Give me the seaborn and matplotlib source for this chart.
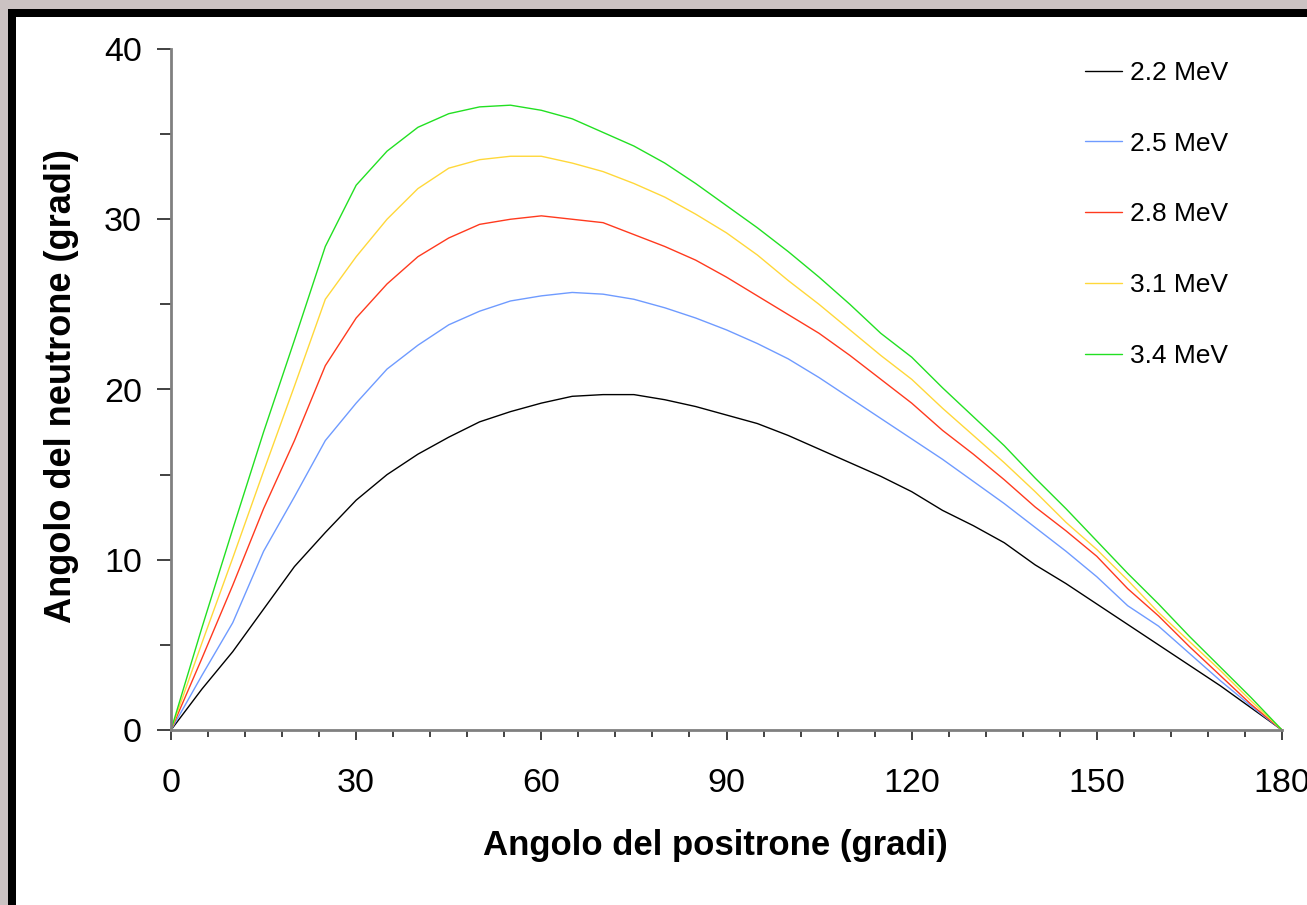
import numpy as np
import pandas as pd
import matplotlib.pyplot as plt
import matplotlib.patches as mpatches
import seaborn as sns

# angoli del positrone (gradi), passo 5
angles = list(range(0, 181, 5))

e22 = [0, 2.4, 4.6, 7.1, 9.6, 11.6, 13.5, 15.0, 16.2, 17.2, 18.1, 18.7, 19.2, 19.6, 19.7, 19.7,
       19.4, 19.0, 18.5, 18.0, 17.3, 16.5, 15.7, 14.9, 14.0, 12.9, 12.0, 11.0, 9.7, 8.6, 7.4,
       6.2, 5.0, 3.8, 2.6, 1.3, 0]
e25 = [0, 3.2, 6.3, 10.5, 13.7, 17.0, 19.2, 21.2, 22.6, 23.8, 24.6, 25.2, 25.5, 25.7, 25.6, 25.3,
       24.8, 24.2, 23.5, 22.7, 21.8, 20.7, 19.5, 18.3, 17.1, 15.9, 14.6, 13.3, 11.9, 10.5, 9.0,
       7.3, 6.1, 4.5, 2.9, 1.4, 0]
e28 = [0, 4.2, 8.5, 13.0, 17.0, 21.4, 24.2, 26.2, 27.8, 28.9, 29.7, 30.0, 30.2, 30.0, 29.8, 29.1,
       28.4, 27.6, 26.6, 25.5, 24.4, 23.3, 22.0, 20.6, 19.2, 17.6, 16.2, 14.7, 13.1, 11.7, 10.2,
       8.3, 6.7, 4.9, 3.2, 1.5, 0]
e31 = [0, 5.1, 10.1, 15.2, 20.2, 25.3, 27.8, 30.0, 31.8, 33.0, 33.5, 33.7, 33.7, 33.3, 32.8, 32.1,
       31.3, 30.3, 29.2, 27.9, 26.4, 25.0, 23.5, 22.0, 20.6, 18.9, 17.3, 15.7, 14.0, 12.2, 10.6,
       8.8, 6.9, 5.2, 3.5, 1.7, 0]
e34 = [0, 6.0, 11.8, 17.5, 22.9, 28.4, 32.0, 34.0, 35.4, 36.2, 36.6, 36.7, 36.4, 35.9, 35.1, 34.3,
       33.3, 32.1, 30.8, 29.5, 28.1, 26.6, 25.0, 23.3, 21.9, 20.1, 18.4, 16.7, 14.8, 13.0, 11.1,
       9.2, 7.4, 5.5, 3.7, 1.9, 0]

labels = ['2.2 MeV', '2.5 MeV', '2.8 MeV', '3.1 MeV', '3.4 MeV']
colors = ['#000000', '#6f9bff', '#ff3a1e', '#ffd83a', '#22e022']

df = pd.concat([pd.DataFrame({'positrone': angles, 'neutrone': v, 'energia': lab})
                for v, lab in zip([e22, e25, e28, e31, e34], labels)])

sns.set_theme(style='white')
plt.rcParams['font.family'] = ['Liberation Sans', 'DejaVu Sans']
plt.rcParams['text.color'] = 'black'
plt.rcParams['axes.labelcolor'] = 'black'
plt.rcParams['xtick.labelcolor'] = 'black'
plt.rcParams['ytick.labelcolor'] = 'black'

fig = plt.figure(figsize=(13.07, 9.05), dpi=100, facecolor='#cbc2c2')
# cornice: bordo nero e pannello bianco
fig.patches.append(mpatches.Rectangle((8/1307, 0), 1, 1 - 9/905, transform=fig.transFigure,
                                      facecolor='black', edgecolor='none', zorder=-2))
fig.patches.append(mpatches.Rectangle((16/1307, 0), 1, 1 - 17/905, transform=fig.transFigure,
                                      facecolor='white', edgecolor='none', zorder=-1))

ax = fig.add_axes([171/1307, 1 - 730/905, 1111/1307, 681/905])
ax.set_facecolor('none')
sns.lineplot(data=df, x='positrone', y='neutrone', hue='energia', palette=dict(zip(labels, colors)),
             linewidth=1.0, ax=ax, clip_on=False)

ax.set_xlim(0, 180)
ax.set_ylim(0, 40)
ax.set_xticks(range(0, 181, 30))
ax.set_xticks(range(0, 181, 6), minor=True)
ax.set_yticks(range(0, 41, 10))
ax.set_yticks(range(5, 40, 10), minor=True)

for s in ['top', 'right']:
    ax.spines[s].set_visible(False)
for s in ['left', 'bottom']:
    ax.spines[s].set_color('#808080')
    ax.spines[s].set_linewidth(2)

ax.tick_params(axis='x', which='major', direction='out', length=7.5, width=1.3, color='#333333',
               labelsize=24.5, pad=20, bottom=True)
ax.tick_params(axis='x', which='minor', direction='out', length=5, width=1.3, color='#333333', bottom=True)
ax.tick_params(axis='y', which='major', direction='out', length=10, width=1.3, color='#333333',
               labelsize=24.5, pad=11, left=True)
ax.tick_params(axis='y', which='minor', direction='out', length=8, width=1.3, color='#333333', left=True)

ax.set_xlabel('Angolo del positrone (gradi)', fontsize=25, fontweight='bold', va='center')
ax.set_ylabel('Angolo del neutrone (gradi)', fontsize=26, fontweight='bold', va='center')
ax.xaxis.set_label_coords((715 - 171) / 1111, -(845 - 730) / 681)
ax.yaxis.set_label_coords(-(171 - 62) / 1111, 0.505)

ax.legend(loc='upper left', bbox_to_anchor=((1085 - 171) / 1111, (730 - 61) / 681), frameon=False,
          fontsize=19, handlelength=1.4, handletextpad=0.3, labelspacing=1.77, borderpad=0,
          borderaxespad=0, title=None)

fig.savefig('out.png', dpi=100, facecolor=fig.get_facecolor())
